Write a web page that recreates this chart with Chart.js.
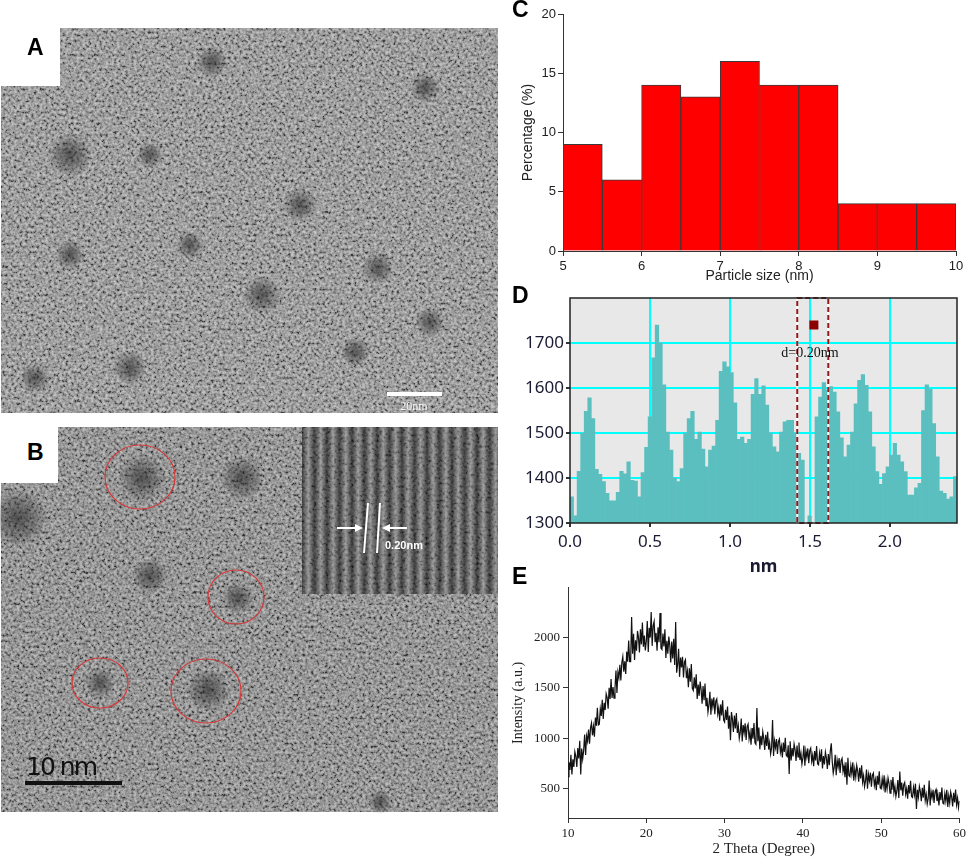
<!DOCTYPE html>
<html>
<head>
<meta charset="utf-8">
<script src="https://cdn.jsdelivr.net/npm/chart.js@4.4.0/dist/chart.umd.min.js"></script>
<style>
body { margin:0; background:#fff; width:969px; height:858px; position:relative; overflow:hidden; }
canvas { position:absolute; }
#overlay { position:absolute; left:0; top:0; pointer-events:none; }
</style>
</head>
<body>
<canvas id="chartC" width="459" height="285" style="left:510px;top:0px"></canvas>
<canvas id="chartD" width="459" height="292" style="left:510px;top:285px"></canvas>
<canvas id="chartE" width="459" height="281" style="left:510px;top:577px"></canvas>

<svg id="overlay" width="969" height="858" xmlns="http://www.w3.org/2000/svg">
  <defs>
    <filter id="grain" x="0" y="0" width="100%" height="100%">
      <feTurbulence type="fractalNoise" baseFrequency="0.35" numOctaves="2" seed="7"/>
      <feColorMatrix type="matrix" values="1 0 0 0 0  1 0 0 0 0  1 0 0 0 0  0 0 0 0 1"/>
      <feComponentTransfer>
        <feFuncR type="linear" slope="1.8" intercept="-0.45"/>
        <feFuncG type="linear" slope="1.8" intercept="-0.45"/>
        <feFuncB type="linear" slope="1.8" intercept="-0.45"/>
      </feComponentTransfer>
    </filter>
    <radialGradient id="blob">
      <stop offset="0" stop-color="#262626" stop-opacity="0.65"/>
      <stop offset="0.6" stop-color="#262626" stop-opacity="0.3"/>
      <stop offset="1" stop-color="#262626" stop-opacity="0"/>
    </radialGradient>
    <linearGradient id="stripe" x1="0" x2="1" y1="0" y2="0">
      <stop offset="0" stop-color="#161616"/>
      <stop offset="0.5" stop-color="#8e8e8e"/>
      <stop offset="1" stop-color="#161616"/>
    </linearGradient>
    <pattern id="fringe" x="302" y="0" width="12.5" height="40" patternUnits="userSpaceOnUse">
      <rect width="12.5" height="40" fill="url(#stripe)"/>
    </pattern>
  </defs>

  <!-- panel A (TEM image stand-in) -->
  <rect x="1" y="28" width="497" height="385" fill="#848484"/>
  <rect x="1" y="28" width="497" height="385" filter="url(#grain)" opacity="0.55"/>
  <g fill="url(#blob)">
    <circle cx="70" cy="155" r="22"/>
    <circle cx="212" cy="62" r="16"/>
    <circle cx="425" cy="88" r="15"/>
    <circle cx="150" cy="155" r="13"/>
    <circle cx="300" cy="205" r="17"/>
    <circle cx="190" cy="245" r="14"/>
    <circle cx="70" cy="255" r="15"/>
    <circle cx="262" cy="295" r="19"/>
    <circle cx="378" cy="268" r="16"/>
    <circle cx="430" cy="322" r="15"/>
    <circle cx="355" cy="352" r="15"/>
    <circle cx="130" cy="368" r="17"/>
    <circle cx="35" cy="378" r="15"/>
  </g>
  <rect x="0" y="0" width="60" height="86" fill="#fff"/>
  <text x="27" y="55" font-family="Liberation Sans, Arial" font-weight="bold" font-size="23" fill="#000">A</text>
  <rect x="387" y="392" width="55" height="4" fill="#fff"/>
  <text x="414" y="410" text-anchor="middle" font-family="Liberation Serif" font-size="12" fill="#f4f4f4">20nm</text>

  <!-- panel B (HRTEM image stand-in) -->
  <rect x="1" y="427" width="497" height="385" fill="#747474"/>
  <rect x="1" y="427" width="497" height="385" filter="url(#grain)" opacity="0.55"/>
  <g fill="url(#blob)">
    <circle cx="142" cy="478" r="24"/>
    <circle cx="242" cy="478" r="22"/>
    <circle cx="18" cy="518" r="30"/>
    <circle cx="150" cy="576" r="18"/>
    <circle cx="238" cy="598" r="16"/>
    <circle cx="100" cy="683" r="15"/>
    <circle cx="208" cy="690" r="22"/>
    <circle cx="380" cy="802" r="12"/>
  </g>
  <rect x="0" y="427" width="58" height="56" fill="#fff"/>
  <text x="27" y="460" font-family="Liberation Sans, Arial" font-weight="bold" font-size="23" fill="#000">B</text>
  <rect x="302" y="427" width="196" height="167" fill="url(#fringe)"/>
  <rect x="302" y="427" width="196" height="167" filter="url(#grain)" opacity="0.25"/>
  <g stroke="#fff" stroke-width="2" fill="none">
    <line x1="368" y1="503" x2="364" y2="553"/>
    <line x1="380" y1="503" x2="377" y2="553"/>
    <line x1="337" y1="528" x2="358" y2="528"/>
    <line x1="407" y1="528" x2="387" y2="528"/>
  </g>
  <polygon points="363,528 355,524 355,532" fill="#fff"/>
  <polygon points="382,528 390,524 390,532" fill="#fff"/>
  <text x="385" y="549" font-family="Liberation Sans, Arial" font-weight="bold" font-size="11" fill="#fff">0.20nm</text>
  <g stroke="#d63a3a" stroke-width="1.2" fill="none">
    <ellipse cx="140" cy="477" rx="35" ry="32"/>
    <ellipse cx="236" cy="597" rx="28" ry="27"/>
    <ellipse cx="100" cy="683" rx="28" ry="25"/>
    <ellipse cx="206" cy="691" rx="35" ry="32"/>
  </g>
  <rect x="25" y="781" width="97" height="4" fill="#111"/>
  <text x="26" y="775" font-family="DejaVu Sans" font-size="25" fill="#111" textLength="72">10 nm</text>

  <!-- panel letters for the charts -->
  <text x="512" y="17" font-family="Liberation Sans, Arial" font-weight="bold" font-size="23" fill="#000">C</text>
  <text x="512" y="303" font-family="Liberation Sans, Arial" font-weight="bold" font-size="23" fill="#000">D</text>
  <text x="512" y="584" font-family="Liberation Sans, Arial" font-weight="bold" font-size="23" fill="#000">E</text>
</svg>

<script>
// C: particle size histogram
var sizeBinStarts = [5, 5.5, 6, 6.5, 7, 7.5, 8, 8.5, 9, 9.5];
var sizeBinWidth = 0.5;
var sizePercent = [9, 6, 14, 13, 16, 14, 14, 4, 4, 4];
var sizeXTicks = [5, 6, 7, 8, 9, 10];
var sizeYTicks = [0, 5, 10, 15, 20];

// D: line profile across lattice fringes
var profileBinWidth = 0.0222;
var profileCounts = [1358, 1316, 1415, 1500, 1548, 1578, 1532, 1419, 1408, 1392,
  1366, 1349, 1349, 1368, 1415, 1409, 1436, 1395, 1393, 1358,
  1412, 1468, 1536, 1667, 1740, 1700, 1607, 1502, 1462, 1400,
  1392, 1421, 1500, 1532, 1548, 1486, 1502, 1464, 1425, 1462,
  1471, 1528, 1637, 1658, 1647, 1634, 1567, 1486, 1491, 1477,
  1486, 1586, 1621, 1586, 1605, 1562, 1500, 1469, 1458, 1502,
  1525, 1528, 1528, 1500, 1455, 1440, 1300, 1316, 1300, 1536,
  1580, 1612, 1596, 1603, 1591, 1547, 1489, 1447, 1473, 1502,
  1565, 1617, 1630, 1606, 1547, 1469, 1414, 1386, 1410, 1425,
  1451, 1477, 1451, 1436, 1414, 1362, 1362, 1378, 1388, 1550,
  1607, 1597, 1521, 1447, 1371, 1366, 1353, 1358, 1403];
var profileXTicks = [0, 0.5, 1.0, 1.5, 2.0];
var profileYTicks = [1300, 1400, 1500, 1600, 1700];
var markStart = 1.421, markEnd = 1.615;

// E: XRD pattern, 2 theta from 10 to 60 every 0.125 degree (one row per degree)
var thetaStart = 10, thetaStep = 0.125;
var xrdIntensity = [
  620, 762, 685, 837, 640, 792, 715, 867,
  820, 716, 902, 799, 975, 640, 897, 794,
  880, 1037, 835, 1022, 970, 1087, 945, 1102,
  1150, 1029, 1117, 1016, 1205, 1124, 1302, 1131,
  1140, 1290, 1220, 1380, 1190, 1350, 1280, 1440,
  1403, 1292, 1500, 1390, 1587, 1399, 1508, 1398,
  1496, 1670, 1448, 1655, 1598, 1728, 1572, 1746,
  1808, 1659, 1761, 1636, 1859, 1758, 1968, 1759,
  1759, 2200, 1838, 2034, 1775, 1971, 1867, 2063,
  1999, 1850, 2079, 1930, 2146, 1906, 2018, 1869,
  1964, 2161, 1854, 2094, 1997, 2250, 1915, 2113,
  2156, 1952, 2043, 1867, 2098, 1950, 2240, 1893,
  1879, 2037, 1908, 2079, 1795, 1966, 1837, 2008,
  1919, 1750, 1959, 1790, 1986, 1726, 2150, 1649,
  1732, 1886, 1608, 1799, 1701, 1807, 1601, 1756,
  1778, 1595, 1664, 1505, 1694, 1559, 1736, 1493,
  1473, 1603, 1492, 1633, 1390, 1531, 1420, 1561,
  1483, 1341, 1518, 1376, 1542, 1323, 1401, 1259,
  1330, 1461, 1232, 1394, 1315, 1406, 1237, 1369,
  1390, 1241, 1302, 1174, 1335, 1226, 1377, 1179,
  1160, 1281, 1182, 1314, 1095, 1226, 980, 1259,
  1190, 1062, 1225, 1097, 1250, 1052, 1125, 997,
  1060, 1194, 967, 1131, 1055, 1149, 982, 1116,
  1140, 995, 1060, 935, 1100, 995, 1150, 955,
  940, 1300, 970, 1105, 890, 1025, 930, 1065,
  997, 885, 1034, 923, 1063, 888, 956, 845,
  904, 1180, 824, 974, 907, 993, 845, 968,
  991, 861, 920, 809, 958, 864, 1004, 830,
  817, 931, 645, 971, 780, 903, 820, 943,
  887, 776, 927, 816, 958, 784, 854, 743,
  804, 927, 727, 877, 812, 899, 753, 876,
  901, 772, 833, 722, 873, 780, 922, 748,
  737, 851, 768, 891, 700, 823, 740, 863,
  807, 695, 844, 733, 873, 950, 766, 655,
  714, 836, 634, 784, 717, 803, 655, 778,
  801, 670, 728, 615, 763, 540, 807, 631,
  620, 727, 647, 762, 580, 695, 615, 730,
  675, 569, 708, 601, 732, 565, 628, 521,
  576, 691, 500, 641, 578, 659, 519, 635,
  656, 534, 591, 486, 628, 539, 672, 508,
  499, 600, 525, 634, 463, 572, 497, 606,
  554, 455, 589, 490, 616, 461, 523, 424,
  478, 587, 409, 670, 484, 561, 431, 540,
  562, 447, 501, 402, 536, 453, 579, 424,
  414, 515, 441, 550, 300, 489, 415, 524,
  474, 376, 510, 412, 538, 384, 446, 348,
  403, 580, 335, 469, 411, 489, 359, 469,
  492, 378, 432, 334, 468, 386, 512, 358,
  349, 452, 378, 489, 320, 431, 357, 468,
  419, 324, 460, 365, 493, 342, 407, 311,
  380];
var xrdXTicks = [10, 20, 30, 40, 50, 60];
var xrdYTicks = [500, 1000, 1500, 2000];

Chart.defaults.animation = false;
Chart.defaults.plugins.legend.display = false;
Chart.defaults.plugins.tooltip.enabled = false;

function setTicks(list) {
  return function(scale) {
    scale.ticks = list.map(function(v) { return { value: v }; });
  };
}
function plain(v) { return String(v); }

var sansFont = '"Liberation Sans", Arial, sans-serif';
var serifFont = '"Liberation Serif", "Times New Roman", serif';
var plotFont = '"Noto Sans", "DejaVu Sans", sans-serif';

// ---- C ----
new Chart(document.getElementById("chartC"), {
  type: 'bar',
  data: {
    datasets: [{
      data: sizeBinStarts.map(function(s, i) { return { x: s + sizeBinWidth / 2, y: sizePercent[i] }; }),
      backgroundColor: '#ff0000',
      borderColor: '#3a3a3a',
      borderWidth: 1,
      barPercentage: 1,
      categoryPercentage: 1
    }]
  },
  options: {
    responsive: false,
    layout: { padding: { left: 10, right: 13, top: 14, bottom: 0 } },
    scales: {
      x: {
        type: 'linear', min: 5, max: 10, offset: false,
        afterBuildTicks: setTicks(sizeXTicks),
        afterFit: function(s) { s.height = 34; },
        grid: { offset: false, drawOnChartArea: false, drawTicks: true, tickLength: 5, tickColor: '#333' },
        border: { display: true, color: '#333', width: 1 },
        ticks: { font: { family: sansFont, size: 13 }, color: '#222', padding: 3, maxRotation: 0, callback: plain },
        title: { display: true, text: 'Particle size (nm)', font: { family: sansFont, size: 14 }, color: '#222', padding: { top: 0, bottom: 0 } }
      },
      y: {
        min: 0, max: 20,
        afterBuildTicks: setTicks(sizeYTicks),
        afterFit: function(s) { s.width = 43; },
        grid: { drawOnChartArea: false, drawTicks: true, tickLength: 5, tickColor: '#333' },
        border: { display: true, color: '#333', width: 1 },
        ticks: { font: { family: sansFont, size: 13 }, color: '#222', padding: 2, callback: plain },
        title: { display: true, text: 'Percentage (%)', font: { family: sansFont, size: 14 }, color: '#222', padding: { top: 0, bottom: 0 } }
      }
    }
  }
});

// ---- D ----
var profileFrame = {
  id: 'profileFrame',
  beforeDraw: function(chart) {
    var a = chart.chartArea, c = chart.ctx;
    c.save();
    c.fillStyle = '#e8e8e8';
    c.fillRect(a.left, a.top, a.right - a.left, a.bottom - a.top);
    c.restore();
  },
  afterDatasetsDraw: function(chart) {
    var a = chart.chartArea, c = chart.ctx;
    var xs = chart.scales.x, ys = chart.scales.y;
    var x0 = xs.getPixelForValue(markStart), x1 = xs.getPixelForValue(markEnd);
    var y0 = ys.getPixelForValue(1800), y1 = ys.getPixelForValue(1300);
    c.save();
    c.lineWidth = 2;
    c.strokeStyle = '#ffffff';
    c.strokeRect(x0, y0, x1 - x0, y1 - y0);
    c.setLineDash([5, 3]);
    c.strokeStyle = '#8e1a1a';
    c.strokeRect(x0, y0, x1 - x0, y1 - y0);
    c.setLineDash([]);
    // marker square and label
    var mx = xs.getPixelForValue(1.525), my = ys.getPixelForValue(1740);
    c.fillStyle = '#8b0000';
    c.fillRect(mx - 4.5, my - 4.5, 9, 9);
    c.fillStyle = '#111';
    c.font = '14px ' + serifFont;
    c.textAlign = 'center';
    c.textBaseline = 'middle';
    c.fillText('d=0.20nm', xs.getPixelForValue(1.5), ys.getPixelForValue(1678));
    // frame
    c.lineWidth = 1.5;
    c.strokeStyle = '#222';
    c.strokeRect(a.left, a.top, a.right - a.left, a.bottom - a.top);
    c.restore();
  }
};

new Chart(document.getElementById("chartD"), {
  type: 'bar',
  data: {
    datasets: [{
      data: profileCounts.map(function(v, i) { return { x: (i + 0.5) * profileBinWidth, y: v }; }),
      backgroundColor: '#5cbfbf',
      borderWidth: 0,
      barPercentage: 1,
      categoryPercentage: 1
    }]
  },
  options: {
    responsive: false,
    layout: { padding: { left: 0, right: 12, top: 13, bottom: 0 } },
    scales: {
      x: {
        type: 'linear', min: 0, max: profileCounts.length * profileBinWidth, offset: false,
        afterBuildTicks: setTicks(profileXTicks),
        afterFit: function(s) { s.height = 54; },
        grid: {
          offset: false, lineWidth: 2, drawTicks: true, tickLength: 4, tickColor: '#333',
          color: function(c) { return (c.tick && c.tick.value > 0) ? '#00ffff' : 'rgba(0,0,0,0)'; }
        },
        border: { display: false },
        ticks: { font: { family: plotFont, size: 17 }, color: '#1a1a33', padding: 5, maxRotation: 0,
          callback: function(v) { return Number(v).toFixed(1); } },
        title: { display: true, text: 'nm', font: { family: plotFont, size: 17, weight: 'bold' }, color: '#1a1a33', padding: { top: 0, bottom: 0 } }
      },
      y: {
        min: 1300, max: 1800,
        afterBuildTicks: setTicks(profileYTicks),
        afterFit: function(s) { s.width = 60; },
        grid: {
          lineWidth: 2, drawTicks: true, tickLength: 4, tickColor: '#333',
          color: function(c) { return (c.tick && c.tick.value > 1300) ? '#00ffff' : 'rgba(0,0,0,0)'; }
        },
        border: { display: false },
        ticks: { font: { family: plotFont, size: 17 }, color: '#1a1a33', padding: 2, callback: plain }
      }
    }
  },
  plugins: [profileFrame]
});

// ---- E ----
new Chart(document.getElementById("chartE"), {
  type: 'line',
  data: {
    datasets: [{
      data: xrdIntensity.map(function(v, i) { return { x: thetaStart + i * thetaStep, y: v }; }),
      borderColor: '#111',
      borderWidth: 1.2,
      pointRadius: 0,
      tension: 0,
      fill: false
    }]
  },
  options: {
    responsive: false,
    layout: { padding: { left: 0, right: 8, top: 5, bottom: 0 } },
    scales: {
      x: {
        type: 'linear', min: 10, max: 60,
        afterBuildTicks: setTicks(xrdXTicks),
        afterFit: function(s) { s.height = 40; },
        grid: { drawOnChartArea: false, drawTicks: true, tickLength: 5, tickColor: '#333' },
        border: { display: true, color: '#333', width: 1 },
        ticks: { font: { family: serifFont, size: 13 }, color: '#222', padding: 3, maxRotation: 0, callback: plain },
        title: { display: true, text: '2 Theta (Degree)', font: { family: serifFont, size: 15 }, color: '#222', padding: { top: 0, bottom: 0 } }
      },
      y: {
        min: 210, max: 2490,
        afterBuildTicks: setTicks(xrdYTicks),
        afterFit: function(s) { s.width = 58; },
        grid: { drawOnChartArea: false, drawTicks: true, tickLength: 5, tickColor: '#333' },
        border: { display: true, color: '#333', width: 1 },
        ticks: { font: { family: serifFont, size: 13 }, color: '#222', padding: 3, callback: plain },
        title: { display: true, text: 'Intensity (a.u.)', font: { family: serifFont, size: 14 }, color: '#222', padding: { top: 0, bottom: 0 } }
      }
    }
  }
});
</script>
</body>
</html>
